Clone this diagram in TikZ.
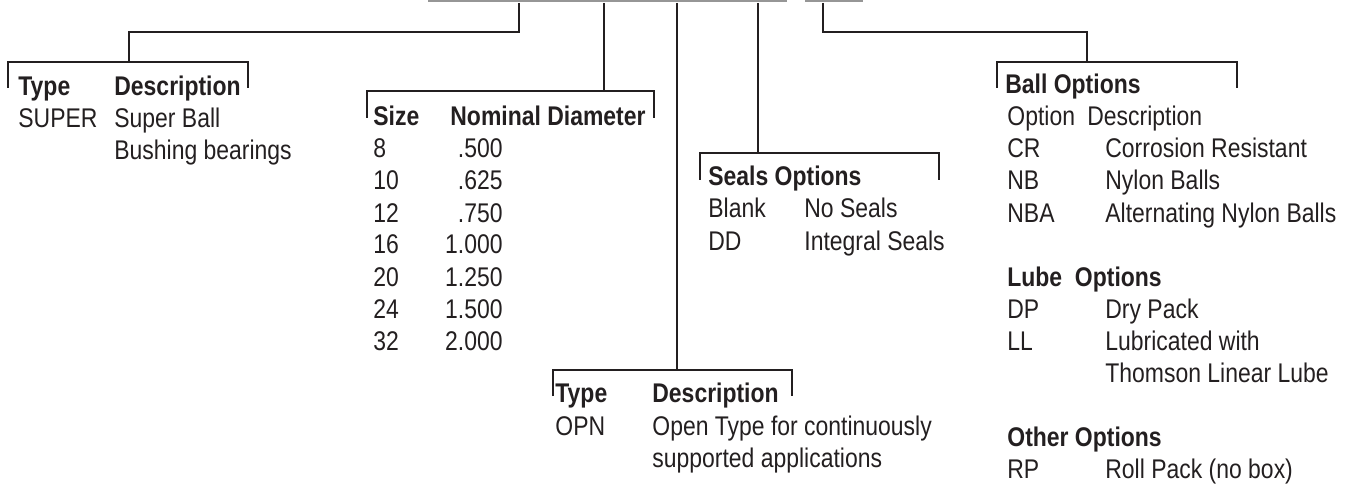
\documentclass[tikz,border=0pt]{standalone}
\usepackage{fontspec}
\setmainfont{Liberation Sans}[FakeStretch=0.85]
\usetikzlibrary{positioning, calc}
\definecolor{InkBlack}{RGB}{35,31,32}
\definecolor{RuleGray}{RGB}{150,150,150}

\begin{document}
\begin{tikzpicture}[x=0.5pt, y=-0.5pt,
	every node/.style={inner sep=0pt, anchor=base west, text=InkBlack,
		font=\fontsize{13.5}{16}\selectfont},
	hd/.style={font=\fontsize{13.5}{16}\selectfont\bfseries},
	lead/.style={draw=InkBlack, line width=1.35pt},
	bracket/.style={draw=InkBlack, line width=1.35pt}]
	\useasboundingbox (0,0) rectangle (1364,486);
	% rules of the part number above
	\draw[RuleGray, line width=0.8pt] (428,0.8) -- (787,0.8);
	\draw[RuleGray, line width=0.8pt] (805,0.8) -- (863,0.8);
	% lead tops and bracket joints
	\foreach \n/\x in {1/519, 2/604, 3/677, 4/758, 5/823}
		{\coordinate (top\n) at (\x,3);}
	\coordinate (jType) at (129,62);
	\coordinate (jSize) at (604,91);
	\coordinate (jOpn) at (677,370);
	\coordinate (jSeal) at (758,153);
	\coordinate (jBall) at (1087,62);
	% leads
	\draw[lead] (top1) -- ++(0,29) -| (jType);
	\draw[lead] (top2) -- (jSize);
	\draw[lead] (top3) -- (jOpn);
	\draw[lead] (top4) -- (jSeal);
	\draw[lead] (top5) -- ++(0,29) -| (jBall);
	% brackets
	\draw[bracket] (8,88) -- (8,62) -- (248,62) -- (248,88);
	\draw[bracket] (367,118) -- (367,91) -- (654,91) -- (654,118);
	\draw[bracket] (553,396) -- (553,370) -- (792,370) -- (792,396);
	\draw[bracket] (700,180) -- (700,153) -- (939,153) -- (939,180);
	\draw[bracket] (997,88) -- (997,62) -- (1237,62) -- (1237,88);
	% type
	\node[hd] (typeA) at (18,96) {Type};
	\node[hd] (descA) at (114,96) {Description};
	\node (super) at (18,128) {SUPER};
	\node (superD) at (114,128) {Super Ball};
	\node (superD2) at (114,160) {Bushing bearings};
	% size
	\node[hd] (size) at (373,126) {Size};
	\node[hd] (nomDia) at (450,126) {Nominal Diameter};
	\foreach \s/\d [count=\i] in {8/.500, 10/.625, 12/.750, 16/1.000,
		20/1.250, 24/1.500, 32/2.000}
		{\node (sz\i) at (373,{126+32*\i}) {\s};
		\node[anchor=base east] (dia\i) at (503,{126+32*\i}) {\d};}
	% seals
	\node[hd] (seals) at (708,186) {Seals Options};
	\node (blank) at (708,218) {Blank};
	\node (blankD) at (804,218) {No Seals};
	\node (dd) at (708,250) {DD};
	\node (ddD) at (804,250) {Integral Seals};
	% open type
	\node[hd] (typeD) at (555,402) {Type};
	\node[hd] (descD) at (652,402) {Description};
	\node (opn) at (555,435) {OPN};
	\node (opnD) at (652,435) {Open Type for continuously};
	\node (opnD2) at (652,467) {supported applications};
	% options
	\node[hd] (ball) at (1005,94) {Ball Options};
	\node (optH) at (1007,126) {Option};
	\node (optD) at (1087,126) {Description};
	\foreach \c/\t/\y in {CR/Corrosion Resistant/158, NB/Nylon Balls/190,
		NBA/Alternating Nylon Balls/222, DP/Dry Pack/318,
		LL/Lubricated with/350, RP/Roll Pack (no box)/478}
		{\node (\c) at (1007,\y) {\c};
		\node (\c D) at (1105,\y) {\t};}
	\node (llD2) at (1105,382) {Thomson Linear Lube};
	\node[hd] (lube) at (1007,286) {Lube\ \ Options};
	\node[hd] (other) at (1007,446) {Other Options};
\end{tikzpicture}
\end{document}
